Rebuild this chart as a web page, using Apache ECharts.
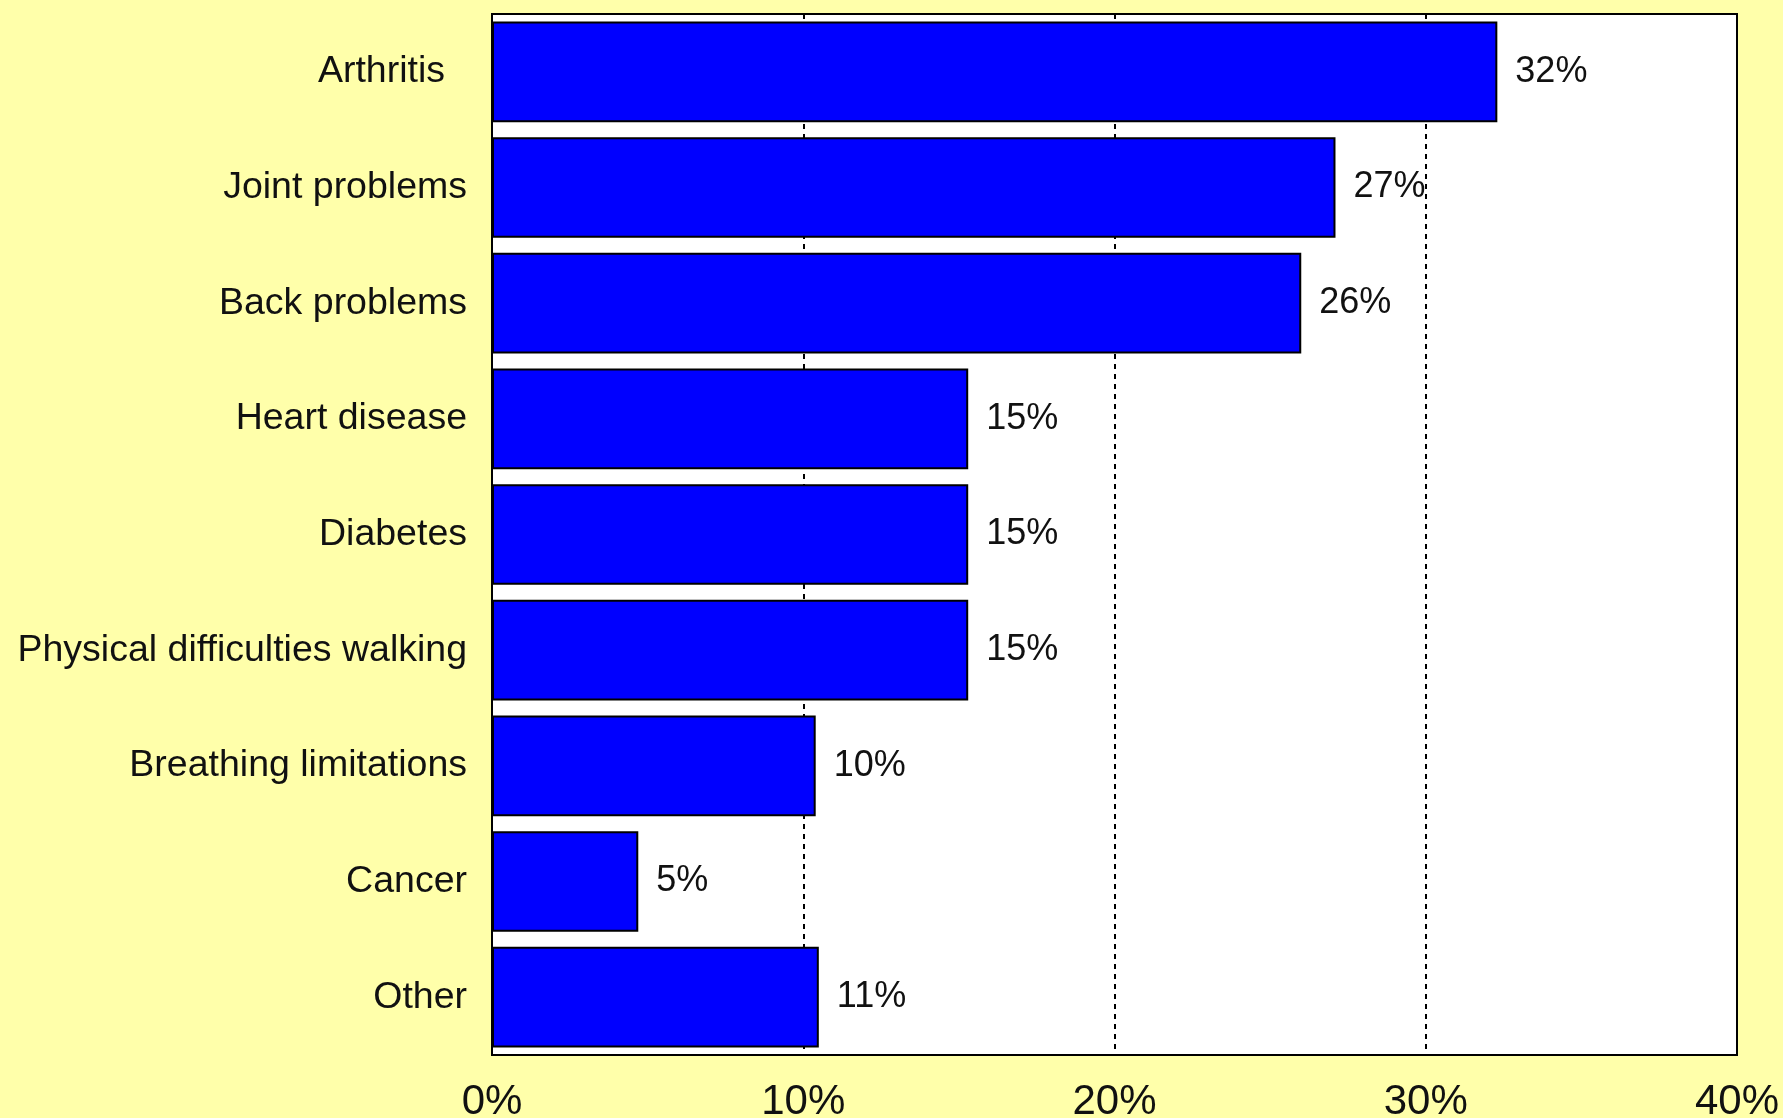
<!DOCTYPE html>
<html>
<head>
<meta charset="utf-8">
<style>
  html, body { margin: 0; padding: 0; background: #ffffaa; }
  #chart { width: 1783px; height: 1118px; }
</style>
<script src="https://cdn.jsdelivr.net/npm/echarts@6/dist/echarts.min.js"></script>
</head>
<body>
<div id="chart"></div>
<script>
// Health conditions reported, share of respondents (%)
const categories = [
  'Arthritis',
  'Joint problems',
  'Back problems',
  'Heart disease',
  'Diabetes',
  'Physical difficulties walking',
  'Breathing limitations',
  'Cancer',
  'Other'
];
const shares = [32.3, 27.1, 26.0, 15.3, 15.3, 15.3, 10.4, 4.7, 10.5];
const xTicks = [0, 10, 20, 30, 40];

const FONT = '"Liberation Sans", Arial, sans-serif';

const chart = echarts.init(document.getElementById('chart'), null, { renderer: 'canvas' });
chart.setOption({
  backgroundColor: '#ffffaa',
  animation: false,
  grid: {
    left: 492,
    right: 46,
    top: 14,
    bottom: 63,
    outerBoundsMode: 'none',
    containLabel: false,
    show: true,
    backgroundColor: '#ffffff',
    borderColor: '#000000',
    borderWidth: 2
  },
  xAxis: {
    type: 'value',
    min: xTicks[0],
    max: xTicks[xTicks.length - 1],
    interval: xTicks[1] - xTicks[0],
    axisLine: { show: false },
    axisTick: { show: false },
    axisLabel: {
      formatter: '{value}%',
      fontFamily: FONT,
      fontSize: 42,
      color: '#111111',
      margin: 26
    },
    splitLine: {
      show: true,
      lineStyle: { color: '#000000', width: 2, type: [5, 5] }
    }
  },
  yAxis: {
    type: 'category',
    data: categories,
    inverse: true,
    axisLine: { show: false },
    axisTick: { show: false },
    splitLine: { show: false },
    axisLabel: {
      fontFamily: FONT,
      fontSize: 37.5,
      color: '#111111',
      margin: 25,
      // the first row's label sits a little further from the axis
      formatter: (v, i) => (i === 0 ? '{wide|' + v + '}' : v),
      rich: {
        wide: {
          fontFamily: FONT,
          fontSize: 37.5,
          color: '#111111',
          padding: [0, 22, 0, 0]
        }
      }
    }
  },
  series: [{
    type: 'bar',
    data: shares,
    barCategoryGap: '13%',
    itemStyle: {
      color: '#0000ff',
      borderColor: '#000000',
      borderWidth: 2
    },
    label: {
      show: true,
      position: 'right',
      distance: 18,
      fontFamily: FONT,
      fontSize: 36,
      color: '#111111',
      formatter: p => Math.round(p.value) + '%'
    }
  }]
});
</script>
</body>
</html>
